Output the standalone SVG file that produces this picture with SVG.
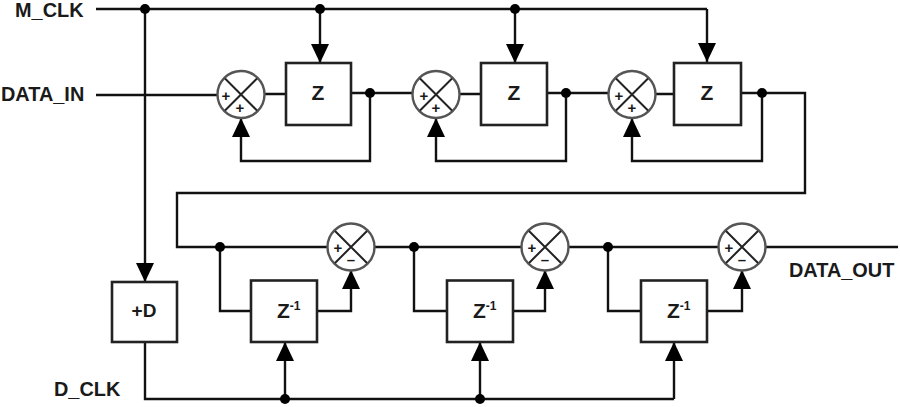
<svg xmlns="http://www.w3.org/2000/svg" width="900" height="407" viewBox="0 0 900 407">
<style>
.w{fill:none;stroke:#111;stroke-width:2.4}
.b{fill:#fff;stroke:#222;stroke-width:2.6}
.a{fill:#fff;stroke:#555;stroke-width:2.4}
.x{stroke:#222;stroke-width:2}
.t{font-family:"Liberation Sans",Arial,sans-serif;font-weight:700;fill:#1a1a1a}
.l{font-size:19.9px}
.z{font-size:21px;text-anchor:middle}
.zi{font-size:21px}
.s{font-size:15px;text-anchor:middle}
.d{fill:#000}
</style>
<defs>
<marker id="ah" markerUnits="userSpaceOnUse" markerWidth="20" markerHeight="20" refX="19" refY="10" orient="auto"><path d="M0 1 L19 10 L0 19Z" fill="#000"/></marker>
<g id="sum"><circle r="23.5" class="a"/><path class="x" d="M-16-16L16 16M-16 16L16-16"/></g>
</defs>
<g id="connectors">
<path class="w" d="M96 9H707"/>
<path class="w" marker-end="url(#ah)" d="M145 9V282"/>
<path class="w" marker-end="url(#ah)" d="M320 9V63"/>
<path class="w" marker-end="url(#ah)" d="M515 9V63"/>
<path class="w" marker-end="url(#ah)" d="M707 9V62"/>
<path class="w" d="M96 95H218"/>
<path class="w" d="M264 94H286M351 93H413"/>
<path class="w" d="M459 94H481M547 93H609"/>
<path class="w" d="M655 94H674M741 93H805V193H177V247H328"/>
<path class="w" marker-end="url(#ah)" d="M370 93V161H241V118"/>
<path class="w" marker-end="url(#ah)" d="M566 93V161H436V118"/>
<path class="w" marker-end="url(#ah)" d="M762 93V161H632V118"/>
<path class="w" d="M374 247H522M568 247H719M765 247H898"/>
<path class="w" marker-end="url(#ah)" d="M220 247V311H251M317 311H351V270"/>
<path class="w" marker-end="url(#ah)" d="M414 247V311H447M513 311H545V270"/>
<path class="w" marker-end="url(#ah)" d="M608 247V311H641M707 311H742V270"/>
<path class="w" d="M145 342V399H674"/>
<path class="w" marker-end="url(#ah)" d="M285 399V342"/>
<path class="w" marker-end="url(#ah)" d="M480 399V342"/>
<path class="w" marker-end="url(#ah)" d="M674 399V342"/>
<g class="d">
<circle cx="145" cy="9" r="5"/><circle cx="320" cy="9" r="5"/><circle cx="515" cy="9" r="5"/>
<circle cx="370" cy="93" r="5"/><circle cx="566" cy="93" r="5"/><circle cx="762" cy="93" r="5"/>
<circle cx="220" cy="247" r="5"/><circle cx="414" cy="247" r="5"/><circle cx="608" cy="247" r="5"/>
<circle cx="285" cy="399" r="5"/><circle cx="480" cy="399" r="5"/>
</g>
</g>
<g id="label-m-clk"><text class="t l" x="15" y="17">M_CLK</text></g>
<g id="label-data-in"><text class="t l" x="1" y="101">DATA_IN</text></g>
<g id="label-data-out"><text class="t l" x="789" y="277">DATA_OUT</text></g>
<g id="label-d-clk"><text class="t l" x="54" y="396">D_CLK</text></g>
<g id="add1"><use href="#sum" x="241" y="94.500"/><text class="t s" x="226" y="101">+</text><text class="t s" x="240" y="113">+</text></g>
<g id="add2"><use href="#sum" x="436" y="94.500"/><text class="t s" x="424" y="101">+</text><text class="t s" x="436" y="113">+</text></g>
<g id="add3"><use href="#sum" x="632" y="94.500"/><text class="t s" x="619" y="101">+</text><text class="t s" x="632" y="113">+</text></g>
<g id="z1"><rect class="b" x="286" y="63" width="65" height="62"/><text class="t z" x="318" y="100">Z</text></g>
<g id="z2"><rect class="b" x="481" y="63" width="66" height="62"/><text class="t z" x="514" y="100">Z</text></g>
<g id="z3"><rect class="b" x="674" y="63" width="67" height="62"/><text class="t z" x="707" y="100">Z</text></g>
<g id="delay"><rect class="b" x="112" y="282" width="65" height="60"/><text class="t z" x="144" y="317" style="font-size:19px">+D</text></g>
<g id="sub1"><use href="#sum" x="351" y="247"/><text class="t s" x="338" y="253">+</text><text class="t s" x="351" y="265">–</text></g>
<g id="sub2"><use href="#sum" x="545" y="247"/><text class="t s" x="532" y="253">+</text><text class="t s" x="545" y="265">–</text></g>
<g id="sub3"><use href="#sum" x="742" y="247"/><text class="t s" x="729" y="253">+</text><text class="t s" x="742" y="265">–</text></g>
<g id="zi1"><rect class="b" x="251" y="280.500" width="66" height="61.500"/><text class="t zi" x="277" y="318">Z<tspan font-size="12" dy="-8">-1</tspan></text></g>
<g id="zi2"><rect class="b" x="447" y="280.500" width="66" height="61.500"/><text class="t zi" x="473" y="318">Z<tspan font-size="12" dy="-8">-1</tspan></text></g>
<g id="zi3"><rect class="b" x="641" y="280.500" width="66" height="61.500"/><text class="t zi" x="667" y="318">Z<tspan font-size="12" dy="-8">-1</tspan></text></g>
</svg>
